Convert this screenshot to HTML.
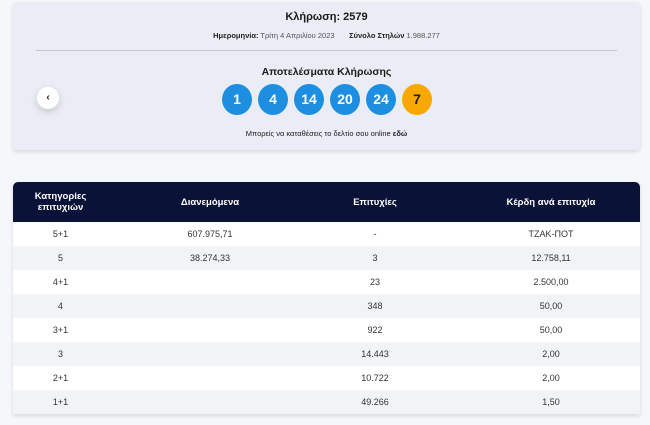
<!DOCTYPE html>
<html><head><meta charset="utf-8"><style>
*{margin:0;padding:0;box-sizing:border-box}
body{width:650px;height:425px;background:#f6f7fa;font-family:"Liberation Sans","DejaVu Sans",sans-serif;position:relative;overflow:hidden;color:#1a1a1a}
.card{position:absolute;left:13px;top:2px;width:627px;height:148px;background:#eaedf5;border-radius:4px;box-shadow:0 2px 4px rgba(0,0,0,.12)}
.t{position:absolute;width:100%;text-align:center}
.line{position:absolute;left:23px;width:581px;top:48px;height:1px;background:#c4c6cc}
.ball{position:absolute;top:82px;width:30px;height:31px;border-radius:50%;background:#1e8fe0;color:#fff;font-weight:bold;font-size:14px;text-align:center;line-height:31px}
.back{position:absolute;left:24px;top:85px;width:22px;height:22px;border-radius:50%;background:#fff;box-shadow:0 3px 8px rgba(0,0,0,.15);font-size:10px;text-align:center;line-height:22px;font-weight:bold}
table{position:absolute;left:13px;top:182px;width:627px;border-collapse:collapse;font-size:9px;box-shadow:0 2px 4px rgba(0,0,0,.12)}
th{background:#0b1238;color:#fff;height:40px;font-size:9.5px;font-weight:bold}
thead tr th:first-child{border-top-left-radius:5px}
thead tr th:last-child{border-top-right-radius:5px}
td{height:24px;text-align:center;color:#333}
th:last-child,td:last-child{padding-left:24px}
tbody tr:nth-child(odd){background:#fff}
tbody tr:nth-child(even){background:#f2f3f6}
</style></head><body>
<div class="card">
<div class="t" style="top:9px;font-size:11px;font-weight:bold">Κλήρωση: 2579</div>
<div class="t" style="top:29px;font-size:7.5px;color:#555"><b style="color:#222">Ημερομηνία:</b> Τρίτη 4 Απριλίου 2023 &nbsp;&nbsp;&nbsp;&nbsp;&nbsp; <b style="color:#222">Σύνολο Στηλών</b> 1.988.277</div>
<div class="line"></div>
<div class="t" style="top:64px;font-size:10.5px;font-weight:bold">Αποτελέσματα Κλήρωσης</div>
<div class="back">‹</div>
<div class="ball" style="left:209px">1</div>
<div class="ball" style="left:245px">4</div>
<div class="ball" style="left:281px">14</div>
<div class="ball" style="left:317px">20</div>
<div class="ball" style="left:353px">24</div>
<div class="ball" style="left:389px;background:#f8a800;color:#222">7</div>
<div class="t" style="top:127px;font-size:7.5px">Μπορείς να καταθέσεις το δελτίο σου online <b>εδώ</b></div>
</div>
<table>
<colgroup><col style="width:95px"><col style="width:204px"><col style="width:126px"><col style="width:202px"></colgroup>
<thead><tr><th>Κατηγορίες<br>επιτυχιών</th><th>Διανεμόμενα</th><th>Επιτυχίες</th><th>Κέρδη ανά επιτυχία</th></tr></thead>
<tbody>
<tr><td>5+1</td><td>607.975,71</td><td>-</td><td>ΤΖΑΚ-ΠΟΤ</td></tr>
<tr><td>5</td><td>38.274,33</td><td>3</td><td>12.758,11</td></tr>
<tr><td>4+1</td><td></td><td>23</td><td>2.500,00</td></tr>
<tr><td>4</td><td></td><td>348</td><td>50,00</td></tr>
<tr><td>3+1</td><td></td><td>922</td><td>50,00</td></tr>
<tr><td>3</td><td></td><td>14.443</td><td>2,00</td></tr>
<tr><td>2+1</td><td></td><td>10.722</td><td>2,00</td></tr>
<tr><td>1+1</td><td></td><td>49.266</td><td>1,50</td></tr>
</tbody></table>
</body></html>
